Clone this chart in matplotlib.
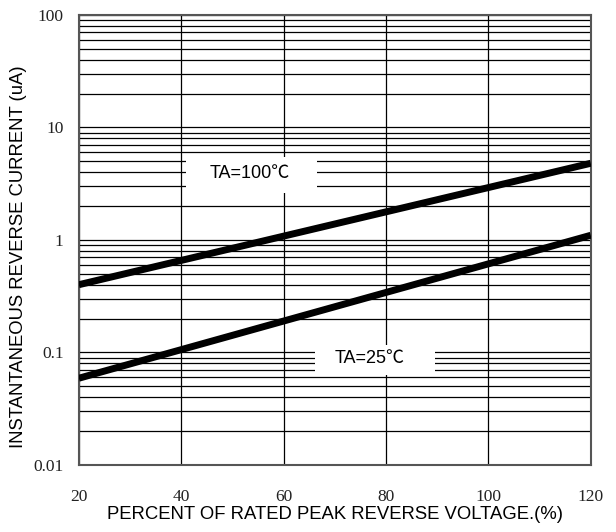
import matplotlib
matplotlib.use("Agg")
import matplotlib.pyplot as plt
from matplotlib.ticker import LogLocator, FixedLocator, NullFormatter
from matplotlib.patches import Rectangle
import numpy as np

x_pct = [20, 120]
i_100 = [0.40, 4.8]
i_25 = [0.059, 1.10]
x_ticks = [20, 40, 60, 80, 100, 120]
y_ticks = [0.01, 0.1, 1, 10, 100]
y_ticklabels = ["0.01", "0.1", "1", "10", "100"]

fig = plt.figure(figsize=(6.16, 5.32), dpi=100)
ax = fig.add_axes([0.128, 0.126, 0.831, 0.846])
ax.set_yscale("log")
ax.set_xlim(20, 120)
ax.set_ylim(0.01, 100)

ax.xaxis.set_major_locator(FixedLocator(x_ticks))
ax.set_xticklabels([str(t) for t in x_ticks])
ax.yaxis.set_major_locator(FixedLocator(y_ticks))
ax.set_yticklabels(y_ticklabels)
ax.yaxis.set_minor_locator(LogLocator(base=10, subs=np.arange(2, 10)))
ax.yaxis.set_minor_formatter(NullFormatter())

ax.grid(True, which="major", axis="both", color="black", linewidth=0.9)
ax.grid(True, which="minor", axis="y", color="black", linewidth=0.9)
ax.tick_params(axis="x", which="both", length=0, pad=17)
ax.tick_params(axis="y", which="both", length=0, pad=11)
for lbl in ax.get_xticklabels() + ax.get_yticklabels():
    lbl.set_family("Liberation Serif")
    lbl.set_fontsize(12.5)
    lbl.set_color("#222222")
for s in ax.spines.values():
    s.set_color("#555555")
    s.set_linewidth(1.5)

# white label boxes
ax.add_patch(Rectangle((40.9, 2.62), 66.5 - 40.9, 5.47 - 2.62, facecolor="white",
                       edgecolor="none", zorder=2))
ax.add_patch(Rectangle((66.1, 0.063), 89.5 - 66.1, 0.1166 - 0.063, facecolor="white",
                       edgecolor="none", zorder=2))

ax.plot(x_pct, i_100, color="black", linewidth=5, solid_capstyle="butt", zorder=3)
ax.plot(x_pct, i_25, color="black", linewidth=5, solid_capstyle="butt", zorder=3)

fam = ["Liberation Sans", "Noto Sans CJK SC"]
ax.text(53.4, 3.9, "TA=100℃", family=fam, fontsize=13, ha="center", va="center", zorder=4)
ax.text(76.8, 0.089, "TA=25℃", family=fam, fontsize=13, ha="center", va="center", zorder=4)

ax.set_xlabel("PERCENT OF RATED PEAK REVERSE VOLTAGE.(%)", family="Liberation Sans",
              fontsize=13.3, labelpad=1)
ax.set_ylabel("INSTANTANEOUS REVERSE CURRENT (uA)", family="Liberation Sans",
              fontsize=13.3)
ax.yaxis.set_label_coords(-0.102, 0.462)

fig.savefig("out.png", dpi=100)
